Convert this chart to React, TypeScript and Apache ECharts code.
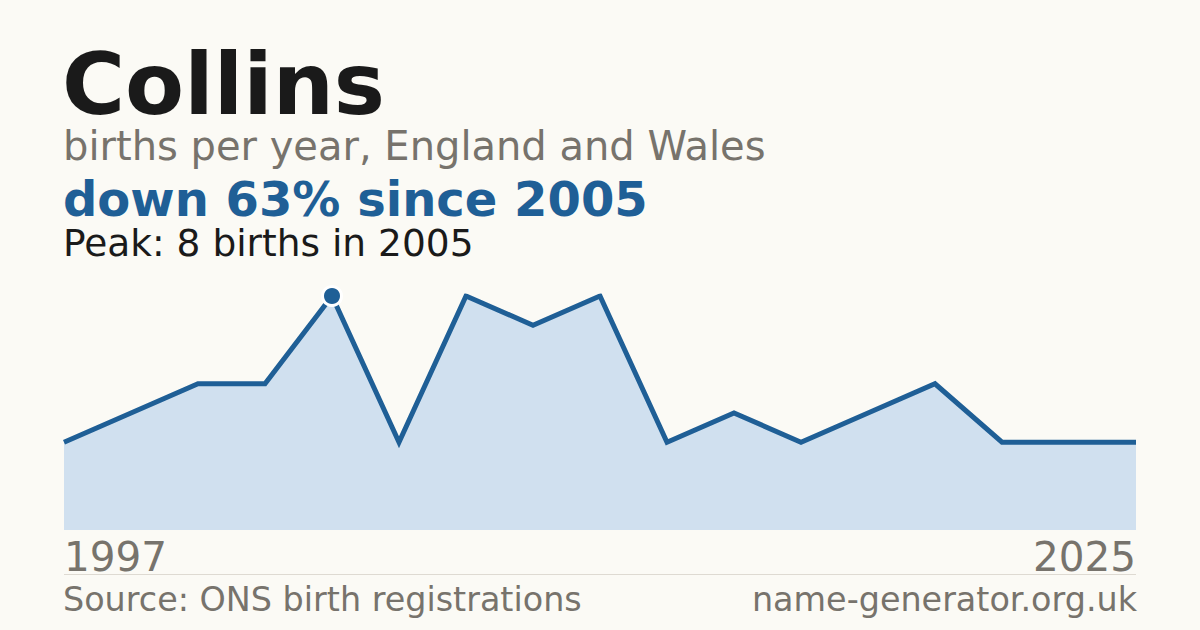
import React, { useEffect, useRef } from "react";
import * as echarts from "echarts";

const NAME = "Collins";
const SUBTITLE = "births per year, England and Wales";
const SOURCE = "Source: ONS birth registrations";
const SITE = "name-generator.org.uk";

const years: string[] = [
  "1997", "1998", "2000", "2002", "2005", "2006", "2007", "2009", "2010",
  "2012", "2014", "2015", "2017", "2019", "2021", "2023", "2025",
];
const births: number[] = [3, 4, 5, 5, 8, 3, 8, 7, 8, 3, 4, 3, 4, 5, 3, 3, 3];

const BG = "#fbfaf5";
const BLUE = "#1f5f96";
const GREY = "#77736c";
const DARK = "#1a1a1a";
const FONT = "'DejaVu Sans', sans-serif";

export default function App() {
  const ref = useRef<HTMLDivElement>(null);

  useEffect(() => {
    document.body.style.margin = "0";
    document.body.style.background = BG;
    if (!ref.current) return;
    const chart = echarts.init(ref.current, undefined, { renderer: "svg" });

    const peak = Math.max(...births);
    const peakIdx = births.indexOf(peak);
    const peakYear = years[peakIdx];
    const last = births[births.length - 1];
    const pct = Math.round((1 - last / peak) * 100);
    const change = last < peak ? `down ${pct}% since ${peakYear}` : `up since ${peakYear}`;
    const lastIdx = years.length - 1;

    const option: any = {
      animation: false,
      backgroundColor: BG,
      grid: { left: 64, right: 64, top: 296, bottom: 100, containLabel: false },
      xAxis: {
        type: "category",
        data: years,
        boundaryGap: false,
        axisLine: { show: false },
        axisTick: { show: false },
        splitLine: { show: false },
        axisLabel: {
          interval: (i: number) => i === 0 || i === lastIdx,
          formatter: (v: string, i: number) => (i === 0 || i === lastIdx ? v : ""),
          alignMinLabel: "left",
          alignMaxLabel: "right",
          color: GREY,
          fontFamily: FONT,
          fontSize: 40.5,
          lineHeight: 36,
          margin: 9,
          verticalAlign: "top",
        },
      },
      yAxis: {
        type: "value",
        min: 0,
        max: peak,
        show: false,
      },
      series: [
        {
          type: "line",
          data: births,
          symbol: "none",
          lineStyle: { color: BLUE, width: 5, join: "miter" },
          areaStyle: { color: "#d0e0ef", opacity: 1 },
          z: 2,
        },
        {
          type: "scatter",
          data: births.map((v, i) => (i === peakIdx ? v : "-")),
          symbol: "circle",
          symbolSize: 19,
          itemStyle: { color: BLUE, borderColor: "#ffffff", borderWidth: 3, opacity: 1 },
          clip: false,
          z: 3,
        },
      ],
      graphic: [
        {
          type: "text",
          left: 62,
          top: 41,
          style: { text: NAME, fill: DARK, font: `bold 86px ${FONT}`, lineHeight: 76 },
        },
        {
          type: "text",
          left: 63,
          top: 126,
          style: { text: SUBTITLE, fill: GREY, font: `40px ${FONT}`, lineHeight: 34 },
        },
        {
          type: "text",
          left: 63,
          top: 175,
          style: { text: change, fill: BLUE, font: `bold 48px ${FONT}`, lineHeight: 40 },
        },
        {
          type: "text",
          left: 63,
          top: 224,
          style: {
            text: `Peak: ${peak} births in ${peakYear}`,
            fill: DARK,
            font: `37.5px ${FONT}`,
            lineHeight: 32,
          },
        },
        {
          type: "line",
          shape: { x1: 64, y1: 574.5, x2: 1136, y2: 574.5 },
          style: { stroke: "#dedad2", lineWidth: 1 },
        },
        {
          type: "text",
          left: 63,
          top: 583,
          style: { text: SOURCE, fill: GREY, font: `33.4px ${FONT}`, lineHeight: 29 },
        },
        {
          type: "text",
          right: 63,
          top: 583,
          style: { text: SITE, fill: GREY, font: `33.4px ${FONT}`, lineHeight: 29 },
        },
      ],
    };

    chart.setOption(option);
    return () => chart.dispose();
  }, []);

  return (
    <div
      ref={ref}
      style={{ position: "fixed", left: 0, top: 0, width: 1200, height: 630 }}
    />
  );
}
